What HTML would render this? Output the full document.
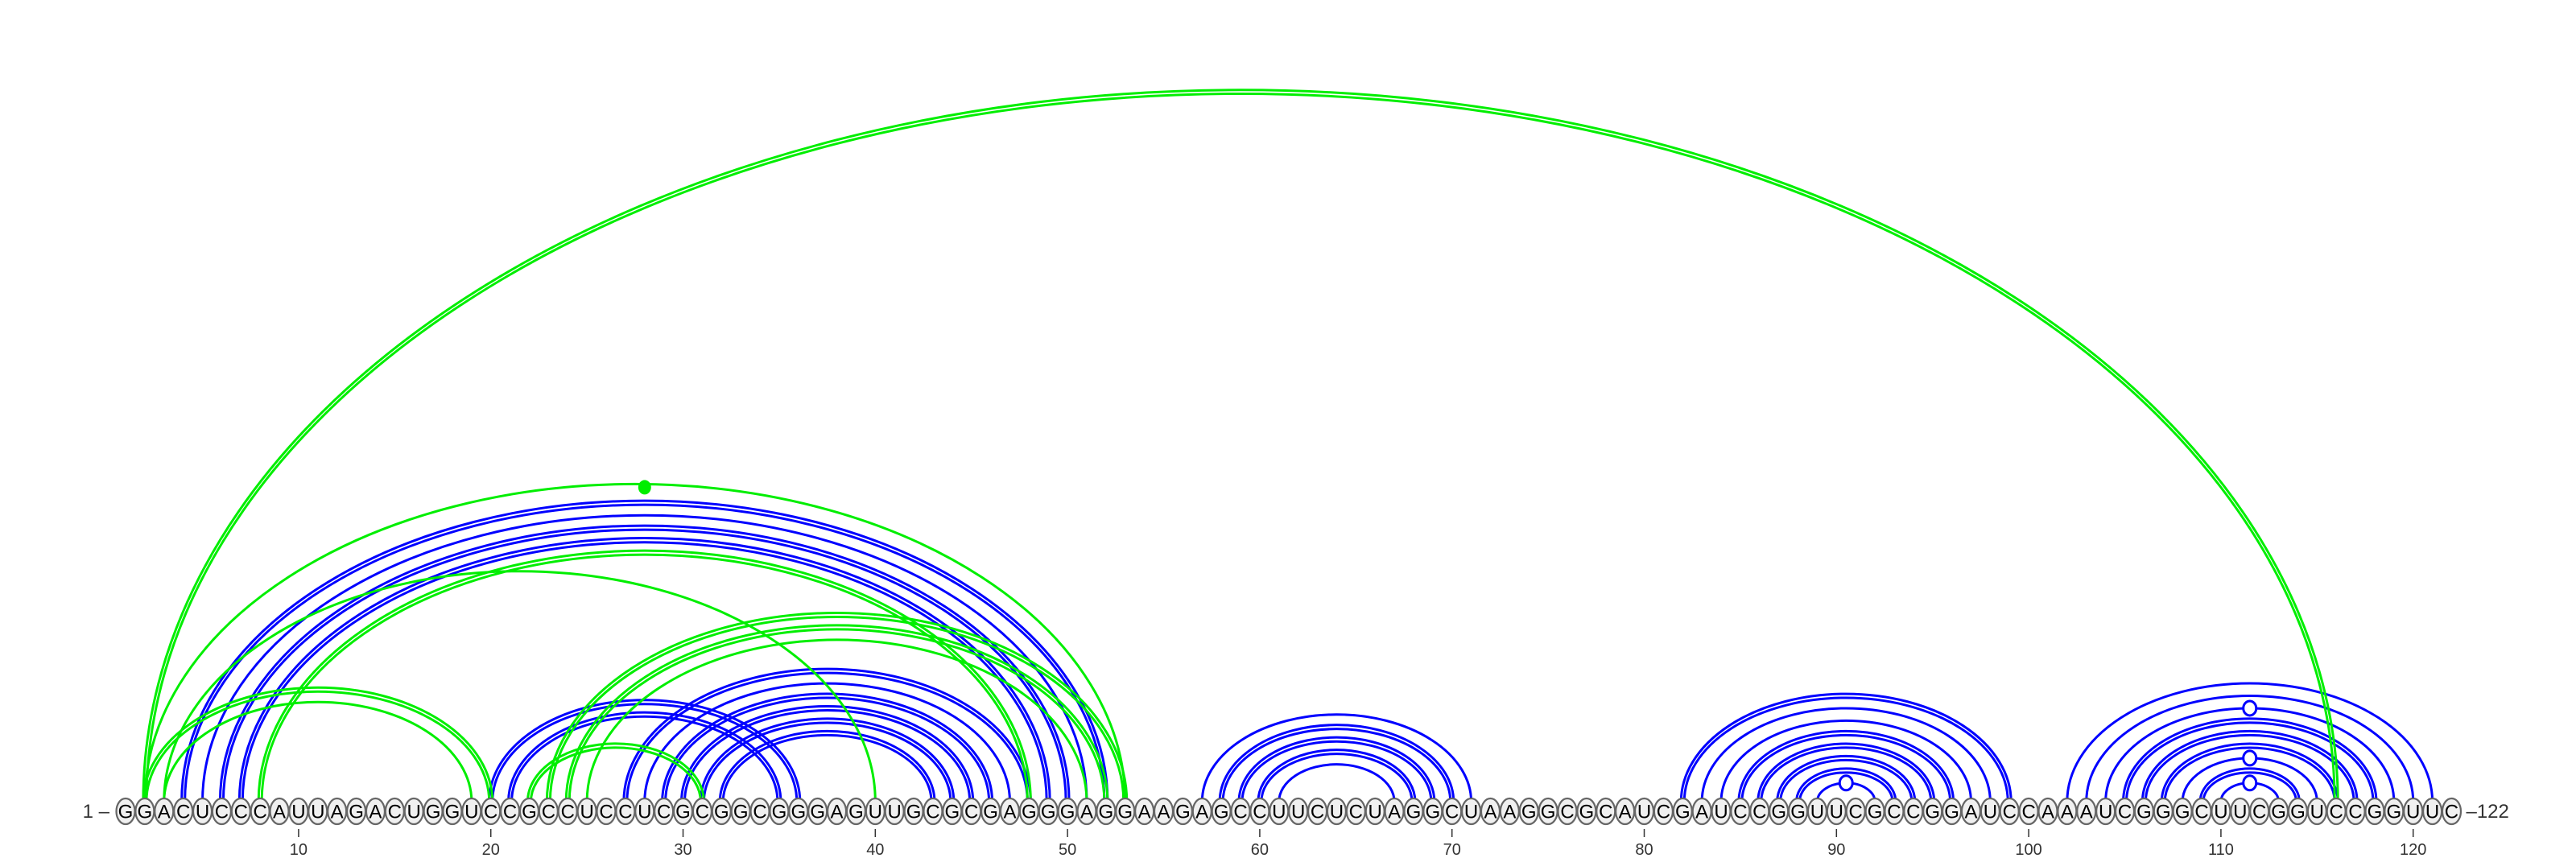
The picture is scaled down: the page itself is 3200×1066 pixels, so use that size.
<!DOCTYPE html>
<html><head><meta charset="utf-8">
<style>
html,body{margin:0;padding:0;background:#fff;}
svg{display:block;}
text{font-family:"Liberation Sans",sans-serif;}
</style></head>
<body>
<svg id="chart" width="3200" height="1066" viewBox="0 0 3200 1066" xmlns="http://www.w3.org/2000/svg">
<g id="arcs"></g>
<g id="bases"></g>
<g id="axis"></g>
</svg>
<script>
const sequence = "GGACUCCCAUUAGACUGGUCCGCCUCCUCGCGGCGGGAGUUGCGCGAGGGAGGAAGAGCCUUCUCUAGGCUAAGGCGCAUCGAUCCGGUUCGCCGGAUCCAAAUCGGGCUUCGGUCCGGUUC";
// blue structure pairs [i, j, double?, marker?]
const bluePairs = [
 [4,52,1,0],[5,51,0,0],[6,50,1,0],[7,49,1,0],
 [20,36,1,0],[21,35,1,0],
 [27,48,1,0],[28,47,0,0],[29,46,1,0],[30,45,1,0],[31,44,1,0],[32,43,1,0],
 [57,71,0,0],[58,70,1,0],[59,69,1,0],[60,68,1,0],[61,67,0,0],
 [82,99,1,0],[83,98,0,0],[84,97,0,0],[85,96,1,0],[86,95,1,0],[87,94,1,0],[88,93,1,0],[89,92,0,1],
 [102,121,0,0],[103,120,0,0],[104,119,0,1],[105,118,1,0],[106,117,1,0],[107,116,1,0],[108,115,0,1],[109,114,1,0],[110,113,0,1]
];
// green structure pairs [i, j, double?, marker?]
const greenPairs = [
 [2,116,1,0],[2,53,0,2],[3,40,0,0],[8,48,1,0],[2,20,1,0],[3,19,0,0],
 [22,31,1,0],[23,53,1,0],[24,52,1,0],[25,51,0,0]
];
const tickValues = [10,20,30,40,50,60,70,80,90,100,110,120];

const NS = "http://www.w3.org/2000/svg";
const X0 = 156, STEP = 23.88, YB = 996, K = 0.324, CY = 1008;
function xPos(p){ return X0 + (p-1)*STEP; }
function mk(tag, attrs, parent){
  const e = document.createElementNS(NS, tag);
  for (const k in attrs) e.setAttribute(k, attrs[k]);
  parent.appendChild(e); return e;
}
const arcs = document.getElementById('arcs');
function arcPath(x1,x2,ry){
  const rx=(x2-x1)/2;
  return `M${x1},${YB} A${rx},${ry} 0 0 1 ${x2},${YB}`;
}
function drawPairs(pairs, color, name){
  pairs.forEach(p=>{
    const x1=xPos(p[0]), x2=xPos(p[1]);
    const span=x2-x1, ry=K*span;
    const g = mk('g',{},arcs);
    
    
    if (p[2]) {
      mk('path',{d:arcPath(x1-2,x2+2,ry+2.5),fill:'none',stroke:color,'stroke-width':3},g);
      mk('path',{d:arcPath(x1+2,x2-2,ry-2.5),fill:'none',stroke:color,'stroke-width':3},g);
    } else {
      mk('path',{d:arcPath(x1,x2,ry),fill:'none',stroke:color,'stroke-width':3},g);
    }
    if (p[3]===1) {
      const m = mk('ellipse',{cx:(x1+x2)/2,cy:YB-ry,rx:8,ry:9,fill:'#fff',stroke:color,'stroke-width':3},g);
      
      
    } else if (p[3]===2) {
      const m = mk('ellipse',{cx:(x1+x2)/2+12,cy:YB-ry+4,rx:8,ry:9,fill:color},g);
      
      
    }
  });
}
drawPairs(bluePairs,'#0000ff','blue');
drawPairs(greenPairs,'#00ee00','green');

const bases = document.getElementById('bases');
for (let i=0;i<sequence.length;i++){
  const x=xPos(i+1);
  const c = mk('ellipse',{cx:x,cy:CY,rx:11.5,ry:16,fill:'#f0f0f0',stroke:'#666','stroke-width':2.2},bases);
  
  
  const t = mk('text',{x:x,y:CY+8.5,'text-anchor':'middle','font-size':24,fill:'#000'},bases);
  
  
  t.textContent=sequence[i];
}
const axis = document.getElementById('axis');
tickValues.forEach(v=>{
  const x=xPos(v);
  const l = mk('line',{x1:x,x2:x,y1:1030,y2:1040,stroke:'#333','stroke-width':1.5},axis);
  
  
  const t = mk('text',{x:x,y:1062,'text-anchor':'middle','font-size':20,fill:'#333'},axis);
  
  
  t.textContent=v;
});
const s = mk('text',{x:xPos(1)-20,y:CY+8,'text-anchor':'end','font-size':24,fill:'#333'},axis);


s.textContent='1 –';
const e = mk('text',{x:xPos(sequence.length)+18,y:CY+8,'text-anchor':'start','font-size':24,fill:'#333'},axis);


e.textContent='–122';
</script>
</body></html>
